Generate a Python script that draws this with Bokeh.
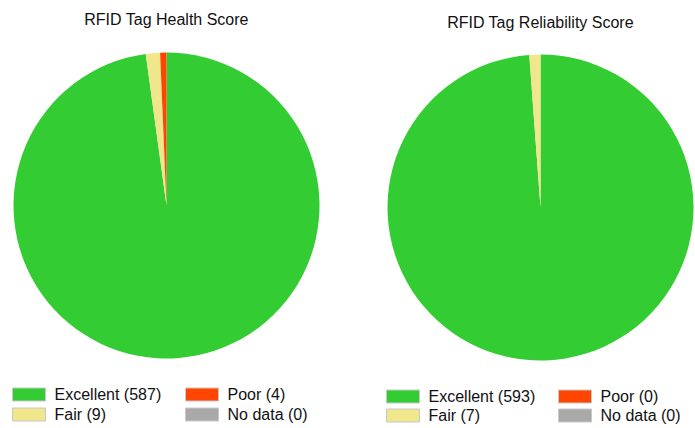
import math
from bokeh.plotting import figure
from bokeh.models import Range1d, ColumnDataSource
from bokeh.core.properties import value
from bokeh.embed import file_html
from bokeh.resources import INLINE

# ---- data ----
categories = ["Excellent", "Fair", "Poor", "No data"]
colors = ["#33CC33", "#F0E68C", "#FF4500", "#A9A9A9"]
health_values = [587, 9, 4, 0]
reliability_values = [593, 7, 0, 0]
titles = ["RFID Tag Health Score", "RFID Tag Reliability Score"]

FONT = "Liberation Sans"

p = figure(width=695, height=428, output_backend="svg", toolbar_location=None,
           x_range=Range1d(0, 695), y_range=Range1d(0, 428),
           x_axis_location=None, y_axis_location=None, min_border=0)
p.grid.visible = False
p.outline_line_color = None
p.background_fill_color = "white"
p.border_fill_color = "white"

def Y(py):
    return 428 - py

def draw_pie(vals, title, cx, cy, r, tx, ty, leg_x0, leg_x1, leg_y0, leg_y1):
    total = sum(vals)
    starts, ends, cols = [], [], []
    cum = 0
    for v, c in zip(vals, colors):
        if v > 0:
            a0 = math.pi / 2 - 2 * math.pi * cum / total
            a1 = math.pi / 2 - 2 * math.pi * (cum + v) / total
            starts.append(a0); ends.append(a1); cols.append(c)
        cum += v
    src = ColumnDataSource(dict(x=[cx] * len(starts), y=[Y(cy)] * len(starts),
                                s=starts, e=ends, c=cols))
    p.wedge(x="x", y="y", radius=r, start_angle="s", end_angle="e",
            direction="clock", fill_color="c", line_color=None, source=src)
    p.text(x=[tx], y=[Y(ty)], text=[title], text_font=value(FONT),
           text_font_size="16px", text_align="center", text_baseline="middle",
           text_color="#111111")
    # legend: column-major 2x2
    pos = [(leg_x0, leg_y0), (leg_x0, leg_y1), (leg_x1, leg_y0), (leg_x1, leg_y1)]
    labels = [f"{cat} ({v})" for cat, v in zip(categories, vals)]
    sx = [px + 16.5 for px, _ in pos]
    sy = [Y(py) for _, py in pos]
    p.rect(x=sx, y=sy, width=33, height=13, fill_color=colors,
           line_color="#C8C8C8", line_width=1)
    p.text(x=[px + 42 for px, _ in pos], y=sy, text=labels, text_font=value(FONT),
           text_font_size="16px", text_align="left", text_baseline="middle",
           text_color="#111111")

draw_pie(health_values, titles[0], 166, 205, 153, 166, 19, 12, 185, 394, 414)
draw_pie(reliability_values, titles[1], 540, 207, 153, 540, 22, 386, 558, 396, 415)

open("out.html", "w").write(file_html(p, INLINE))
